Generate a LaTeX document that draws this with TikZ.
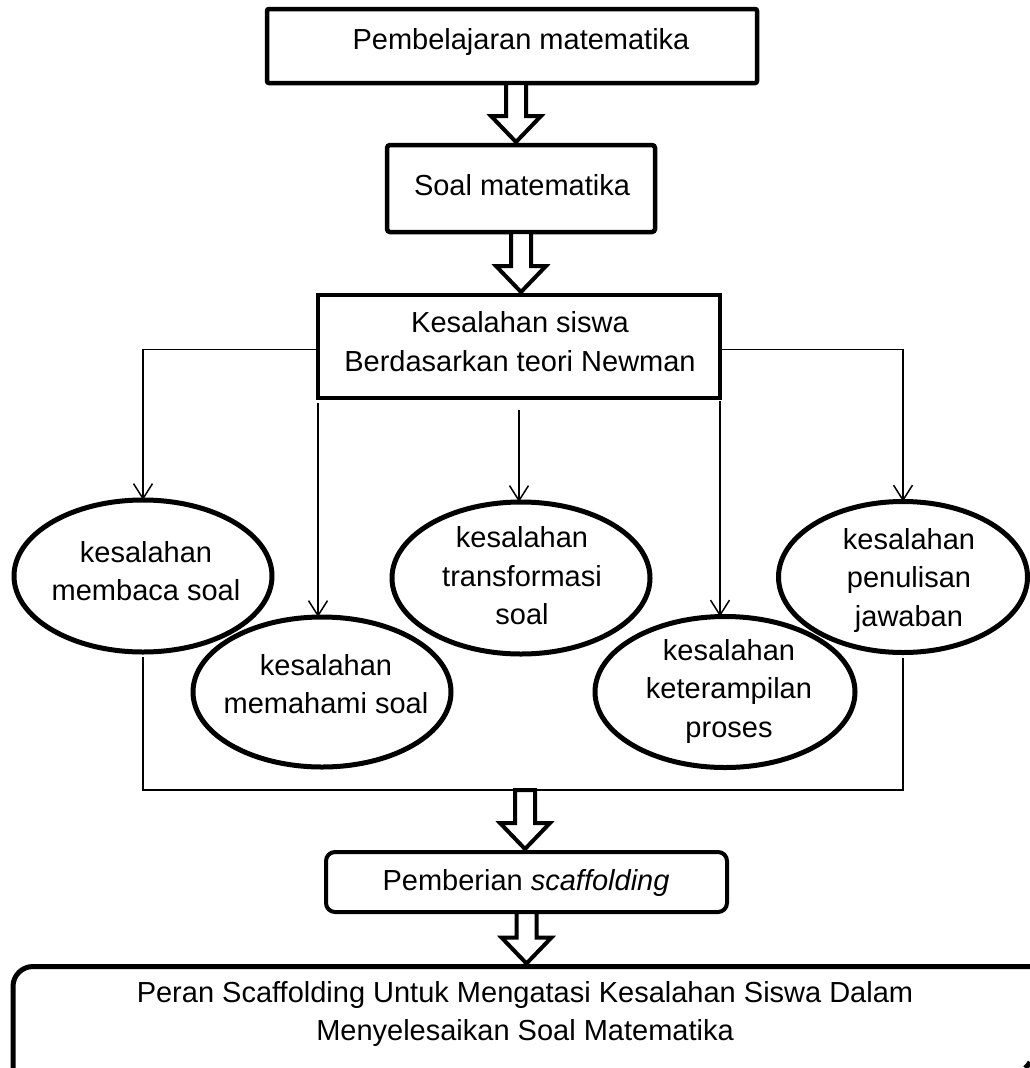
\documentclass[tikz,border=0pt]{standalone}
\usepackage{fontspec}
\setmainfont{Liberation Sans}
\usetikzlibrary{shapes.geometric,arrows.meta,calc}
\tikzset{
  box/.style={draw, line width=4.5pt, inner sep=0pt, outer sep=0pt},
  oval/.style={draw, ellipse, line width=5pt, inner sep=0pt, outer sep=0pt},
  txt/.style={font=\fontsize{29pt}{38.5pt}\selectfont, align=center, inner sep=0pt, outer sep=0pt},
  thinline/.style={line width=1.5pt},
  barb/.style={-{Straight Barb[length=15pt,width=19pt,line width=1.5pt]}},
  hollow/.style={line width=4pt, line join=miter, fill=white},
}
\newcommand\hollowarrow[2]{%
  \draw[hollow] let \p1=(#1), \p2=(#2) in
    (\x1-10pt,\y1) -- (\x1-10pt,\y2+29pt) -- (\x1-25pt,\y2+29pt) -- (\x1,\y2+3pt)
    -- (\x1+25pt,\y2+29pt) -- (\x1+10pt,\y2+29pt) -- (\x1+10pt,\y1) -- cycle;}
\begin{document}
\begin{tikzpicture}[x=1pt,y=-1pt]
\useasboundingbox (0,0) rectangle (1030,1068);
% boxes
\node[box, rounded corners=2pt, minimum width=490pt, minimum height=74pt] (top) at (512,46) {};
\node[box, rounded corners=3pt, minimum width=268pt, minimum height=87pt] (soal) at (521,188.5) {};
\node[box, minimum width=402pt, minimum height=103pt] (kes) at (519,346.5) {};
\node[box, line width=4pt, rounded corners=9pt, minimum width=401pt, minimum height=60pt] (scaf) at (526.5,882) {};
% bottom box, running off the right and bottom edges of the page
\draw[line width=5pt, rounded corners=20pt] (1030,966.5) -- (13,966.5) -- (13,1068);
\draw[line width=5pt, line cap=butt] (1025,1068) .. controls (1027.5,1066) and (1029,1064) .. (1030,1062);
\coordinate (peranTop) at (526.5,966.5);
% ellipses
\node[oval, minimum width=258pt, minimum height=152pt] (e1) at (143,576) {};
\node[oval, minimum width=258pt, minimum height=150pt] (e2) at (322,692) {};
\node[oval, minimum width=258pt, minimum height=152pt] (e3) at (521,578) {};
\node[oval, minimum width=260pt, minimum height=151pt] (e4) at (725,692) {};
\node[oval, minimum width=249pt, minimum height=151pt] (e5) at (903,577) {};
% texts
\node[txt, anchor=base] (t1) at (521,49) {Pembelajaran matematika};
\node[txt, anchor=base] (t2) at (522,195) {Soal matematika};
\node[txt] (t3) at (520,341.5) {Kesalahan siswa\\Berdasarkan teori Newman};
\node[txt] (te1) at (146,571) {kesalahan\\membaca soal};
\node[txt] (te2) at (326,684) {kesalahan\\memahami soal};
\node[txt] (te3) at (522,576) {kesalahan\\transformasi\\soal};
\node[txt] (te4) at (729,691) {kesalahan\\keterampilan\\proses};
\node[txt] (te5) at (909,580) {kesalahan\\penulisan\\jawaban};
\node[txt, anchor=base] (t9) at (526,890) {Pemberian \textit{scaffolding}};
\node[txt] (t10) at (525,1014) {Peran Scaffolding Untuk Mengatasi Kesalahan Siswa Dalam\\Menyelesaikan Soal Matematika};
% hollow arrows
\coordinate (a1s) at ($(top.south)+(4,0)$);
\hollowarrow{a1s}{a1s |- soal.north}
\hollowarrow{soal.south}{soal.south |- kes.north}
\coordinate (join) at (525,790);
\hollowarrow{join}{join |- scaf.north}
\hollowarrow{scaf.south}{scaf.south |- peranTop}
% branch arrows
\draw[thinline, barb] ([yshift=-3pt]kes.west) -| (e1.north);
\draw[thinline, barb] ([yshift=-3pt]kes.east) -| (e5.north);
\draw[thinline, barb] ([yshift=-12pt]kes.south) -- (kes.south |- e3.north);
\draw[thinline, barb] ([yshift=-5pt]kes.south west) -- (kes.south west |- e2.north);
\draw[thinline, barb] ([yshift=-3pt]kes.south east) -- (kes.south east |- e4.north);
% merge lines
\draw[thinline] ([yshift=-5pt]e1.south) |- (join) -| ([yshift=-5pt]e5.south);
\end{tikzpicture}
\end{document}
